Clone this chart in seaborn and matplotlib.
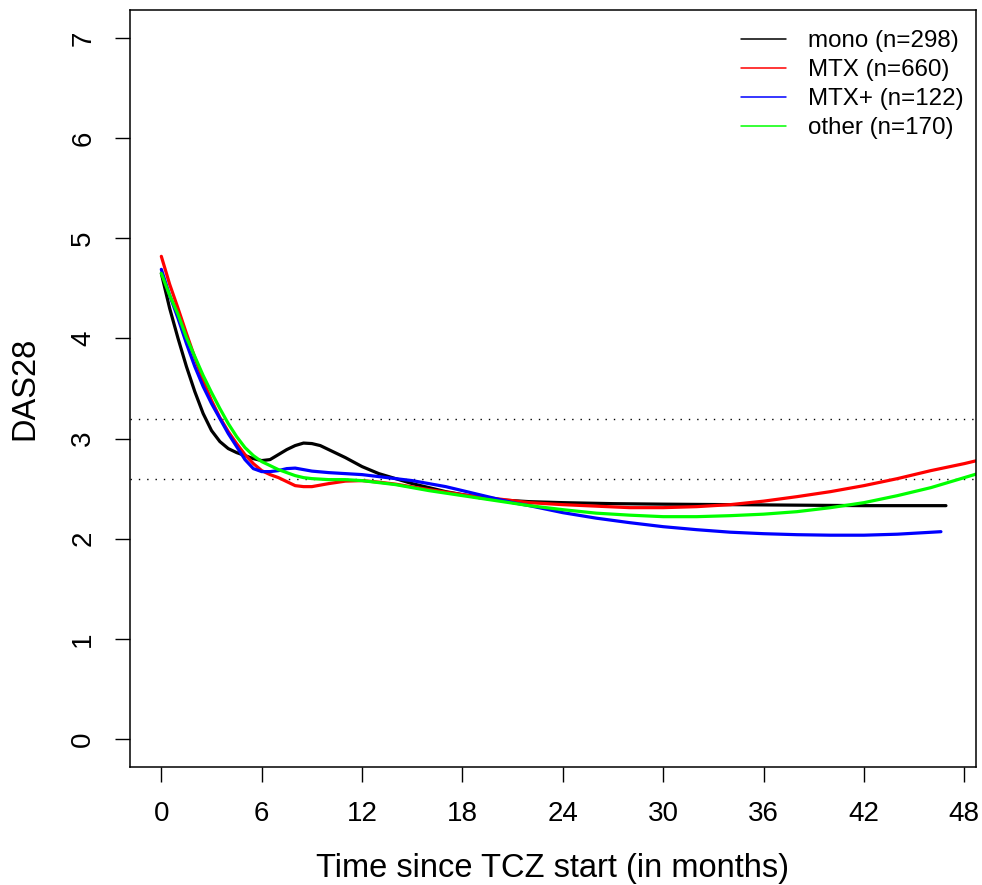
import numpy as np
import pandas as pd
import matplotlib
matplotlib.use("Agg")
import matplotlib.pyplot as plt
from matplotlib.lines import Line2D
import seaborn as sns

# ---- data ----
mono_t = [0, 0.5, 1, 1.5, 2, 2.5, 3, 3.5, 4, 4.5, 5, 5.5, 6, 6.5, 7, 7.5, 8, 8.5, 9, 9.5,
          10, 11, 12, 13, 14, 15, 16, 17, 18, 19, 20, 22, 24, 27, 30, 34, 38, 42, 46.9]
mono_v = [4.65, 4.30, 4.00, 3.72, 3.47, 3.25, 3.08, 2.97, 2.90, 2.86, 2.83, 2.80, 2.78, 2.79,
          2.84, 2.89, 2.93, 2.955, 2.95, 2.93, 2.89, 2.81, 2.72, 2.65, 2.60, 2.55, 2.51, 2.47,
          2.44, 2.41, 2.39, 2.37, 2.36, 2.35, 2.345, 2.34, 2.335, 2.33, 2.33]

mtx_t = [0, 0.5, 1, 1.5, 2, 2.5, 3, 3.5, 4, 4.5, 5, 5.5, 6, 6.5, 7, 7.5, 8, 8.5, 9, 9.5,
         10, 11, 12, 13, 14, 16, 18, 20, 22, 24, 26, 28, 30, 32, 34, 36, 38, 40, 42, 44, 46, 48, 49]
mtx_v = [4.82, 4.54, 4.30, 4.05, 3.81, 3.58, 3.38, 3.21, 3.07, 2.95, 2.84, 2.75, 2.68, 2.64,
         2.61, 2.57, 2.53, 2.52, 2.52, 2.535, 2.55, 2.575, 2.58, 2.565, 2.545, 2.49, 2.44, 2.40,
         2.36, 2.34, 2.325, 2.31, 2.31, 2.32, 2.34, 2.375, 2.42, 2.47, 2.53, 2.60, 2.68, 2.75, 2.79]

mtxp_t = [0, 0.5, 1, 1.5, 2, 2.5, 3, 3.5, 4, 4.5, 5, 5.5, 6, 6.5, 7, 7.5, 8, 8.5, 9, 10,
          11, 12, 13, 14, 15, 16, 17, 18, 19, 20, 21, 22, 24, 26, 28, 30, 32, 34, 36, 38, 40,
          42, 44, 46.6]
mtxp_v = [4.69, 4.43, 4.20, 3.95, 3.72, 3.52, 3.35, 3.20, 3.05, 2.92, 2.79, 2.70, 2.67, 2.67,
          2.68, 2.70, 2.705, 2.69, 2.675, 2.66, 2.65, 2.64, 2.62, 2.60, 2.58, 2.55, 2.52, 2.48,
          2.44, 2.40, 2.36, 2.33, 2.26, 2.205, 2.16, 2.12, 2.09, 2.065, 2.05, 2.04, 2.035,
          2.035, 2.045, 2.07]

other_t = [0, 0.5, 1, 1.5, 2, 2.5, 3, 3.5, 4, 4.5, 5, 5.5, 6, 6.5, 7, 7.5, 8, 8.5, 9, 10,
           11, 12, 13, 14, 16, 18, 20, 22, 24, 26, 28, 30, 32, 34, 36, 38, 40, 42, 44, 46, 48, 49]
other_v = [4.65, 4.43, 4.24, 4.01, 3.82, 3.63, 3.46, 3.30, 3.15, 3.02, 2.91, 2.83, 2.77, 2.73,
           2.69, 2.66, 2.63, 2.61, 2.60, 2.59, 2.59, 2.58, 2.56, 2.54, 2.48, 2.43, 2.38, 2.33,
           2.29, 2.255, 2.235, 2.22, 2.22, 2.23, 2.245, 2.27, 2.31, 2.36, 2.43, 2.51, 2.61, 2.66]

groups = ["mono (n=298)", "MTX (n=660)", "MTX+ (n=122)", "other (n=170)"]
colors = ["#000000", "#FF0000", "#0000FF", "#00FF00"]
ref_lines = [3.2, 2.6]
x_ticks = [0, 6, 12, 18, 24, 30, 36, 42, 48]
y_ticks = [0, 1, 2, 3, 4, 5, 6, 7]

df = pd.concat([
    pd.DataFrame({"t": mono_t, "v": mono_v, "g": groups[0]}),
    pd.DataFrame({"t": mtx_t, "v": mtx_v, "g": groups[1]}),
    pd.DataFrame({"t": mtxp_t, "v": mtxp_v, "g": groups[2]}),
    pd.DataFrame({"t": other_t, "v": other_v, "g": groups[3]}),
], ignore_index=True)

# ---- style ----
sns.set_style("ticks")
plt.rcParams["font.family"] = ["Liberation Sans", "DejaVu Sans"]
plt.rcParams["text.color"] = "black"
plt.rcParams["axes.labelcolor"] = "black"
plt.rcParams["xtick.color"] = "black"
plt.rcParams["ytick.color"] = "black"

fig = plt.figure(figsize=(9.82, 8.85), dpi=100)
ax = fig.add_axes([130 / 982, 1 - 767 / 885, 845.6 / 982, 757 / 885])

sns.lineplot(data=df, x="t", y="v", hue="g", palette=dict(zip(groups, colors)),
             hue_order=groups, sort=False, estimator=None, linewidth=2.3, legend=False, ax=ax)

for r in ref_lines:
    ax.axhline(r, color="black", linewidth=1.0, linestyle=(0, (1, 5)), zorder=0)

# R-like axis ranges (4% extension)
xr = (0, 46.8)
ext = 0.04 * (xr[1] - xr[0])
ax.set_xlim(xr[0] - ext, xr[1] + ext)
ax.set_ylim(-0.28, 7.28)
ax.set_xticks(x_ticks)
ax.set_yticks(y_ticks)
ax.set_xticklabels([str(v) for v in x_ticks])
ax.set_yticklabels([str(v) for v in y_ticks])

for s in ax.spines.values():
    s.set_visible(True)
    s.set_color("black")
    s.set_linewidth(1.1)

ax.tick_params(axis="both", length=10.8, width=1.0, color="black", labelcolor="black",
               labelsize=20, direction="out")
ax.tick_params(axis="x", pad=13.5)
ax.tick_params(axis="y", pad=13.5)
for lab in ax.get_yticklabels():
    lab.set_rotation(90)
    lab.set_va("center")
    lab.set_ha("right")

ax.set_xlabel("Time since TCZ start (in months)", fontsize=23.5, color="black")
ax.set_ylabel("DAS28", fontsize=23.5, color="black")
ax.xaxis.set_label_coords(0.5, (767 - 853) / 757)
ax.yaxis.set_label_coords((40 - 130) / 845.6, 0.5)

handles = [Line2D([0], [0], color=c, linewidth=1.1) for c in colors]
leg = ax.legend(handles, groups, loc="upper left", bbox_to_anchor=(741 / 982, 1 - 30 / 885),
                bbox_transform=fig.transFigure, frameon=False, fontsize=17.4, handlelength=1.87,
                handletextpad=0.92, labelspacing=0.29, borderpad=0, borderaxespad=0)
for t in leg.get_texts():
    t.set_color("black")

ax.grid(False)
fig.savefig("out.png", dpi=100)
